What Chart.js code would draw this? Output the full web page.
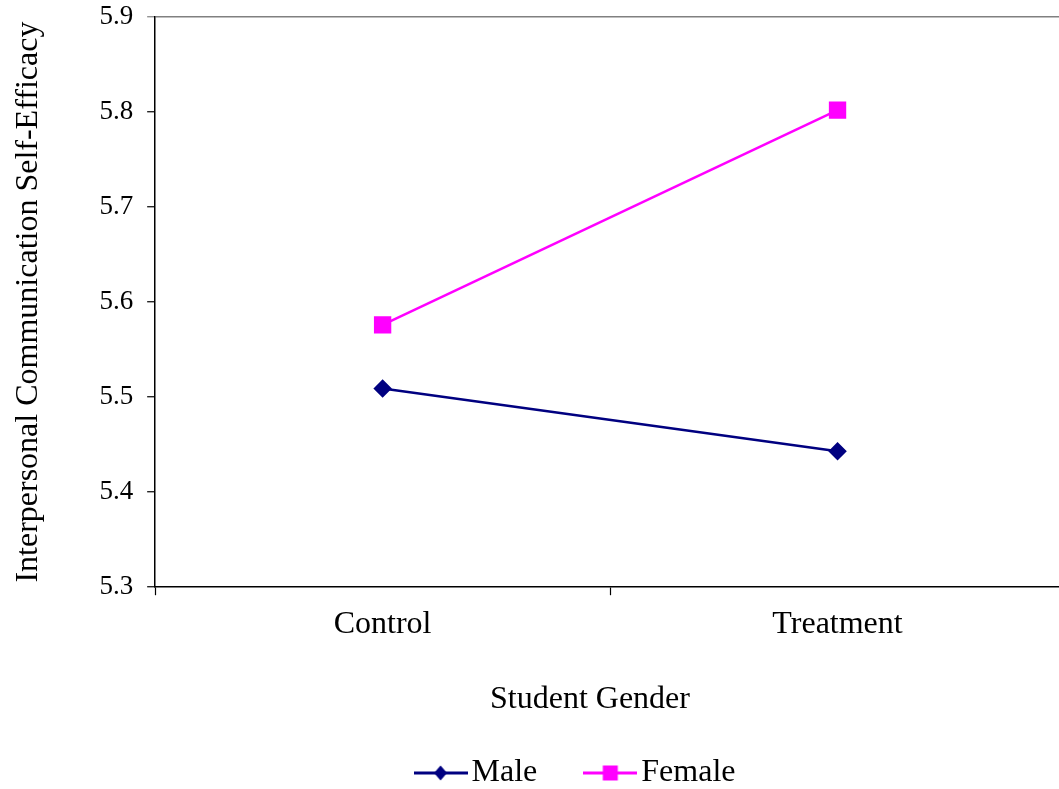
<!DOCTYPE html>
<html>
<head>
<meta charset="utf-8">
<script src="https://cdn.jsdelivr.net/npm/chart.js@4.4.0/dist/chart.umd.min.js"></script>
<style>
  html, body { margin: 0; padding: 0; background: #fff; overflow: hidden; }
  #wrap { width: 1066px; height: 789px; }
</style>
</head>
<body>
<div id="wrap"><canvas id="chart"></canvas></div>
<script>
let groups = ['Control', 'Treatment']
let maleScores = [5.509, 5.443]
let femaleScores = [5.576, 5.802]
let yTicks = [5.3, 5.4, 5.5, 5.6, 5.7, 5.8, 5.9]

const serif = "'Liberation Serif', 'Times New Roman', serif"

// little canvas with a line through a marker, used as the legend symbol
function legendIcon(color, shape) {
  var c = document.createElement('canvas')
  c.width = 54
  c.height = 20
  var g = c.getContext('2d')
  g.strokeStyle = color
  g.lineWidth = 3
  g.beginPath()
  g.moveTo(0, 10)
  g.lineTo(54, 10)
  g.stroke()
  g.fillStyle = color
  if (shape === 'diamond') {
    g.beginPath()
    g.moveTo(27, 2.5)
    g.lineTo(33.5, 10)
    g.lineTo(27, 17.5)
    g.lineTo(20.5, 10)
    g.closePath()
    g.fill()
  } else {
    g.fillRect(19.5, 2.5, 15, 15)
  }
  return c
}

// move legend and bottom title to where the original has them
const nudge = {
  id: 'nudge',
  afterLayout(chart) {
    const move = (box, cx, dy) => {
      if (!box) return
      const dx = cx - (box.left + box.right) / 2
      box.left += dx
      box.right += dx
      box.top += dy
      box.bottom += dy
    }
    move(chart.legend, 580.5, 10)
    move(chart.titleBlock, 590, 0)
  }
}

const ctx = document.getElementById('chart').getContext('2d')
const chart = new Chart(ctx, {
  type: 'line',
  data: {
    labels: groups,
    datasets: [
      {
        label: 'Male',
        data: maleScores,
        borderColor: '#000080',
        backgroundColor: '#000080',
        borderWidth: 2.5,
        pointStyle: 'rectRot',
        pointRadius: 7.5,
        pointHoverRadius: 7.5,
        icon: legendIcon('#000080', 'diamond'),
        gap: '\u2003\u2002'
      },
      {
        label: 'Female',
        data: femaleScores,
        borderColor: '#FF00FF',
        backgroundColor: '#FF00FF',
        borderWidth: 2.5,
        pointStyle: 'rect',
        pointRadius: 10.5,
        pointHoverRadius: 10.5,
        icon: legendIcon('#FF00FF', 'square'),
        gap: ''
      }
    ]
  },
  plugins: [nudge],
  options: {
    responsive: true,
    maintainAspectRatio: false,
    animation: false,
    layout: { autoPadding: false, padding: { left: 5, top: 17, right: 1, bottom: 0 } },
    plugins: {
      tooltip: { enabled: false },
      title: {
        display: true,
        position: 'bottom',
        weight: 500,
        text: 'Student Gender',
        color: '#000',
        padding: { top: 27, bottom: 18 },
        font: { family: serif, size: 32, weight: 'normal' }
      },
      legend: {
        position: 'bottom',
        labels: {
          usePointStyle: true,
          pointStyleWidth: 30,
          padding: 10,
          color: '#000',
          font: { family: serif, size: 32 },
          generateLabels: (chart) => chart.data.datasets.map((ds, i) => ({
            text: ds.label + ds.gap,
            pointStyle: ds.icon,
            fontColor: '#000',
            lineWidth: 0,
            strokeStyle: 'transparent',
            fillStyle: 'transparent',
            datasetIndex: i
          }))
        }
      }
    },
    scales: {
      x: {
        offset: true,
        grid: {
          offset: true,
          drawOnChartArea: false,
          drawTicks: true,
          tickLength: 8,
          tickColor: '#000',
          tickWidth: 1.2
        },
        border: { color: '#000', width: 1.5 },
        ticks: {
          color: '#000',
          padding: 10,
          font: { family: serif, size: 32 }
        }
      },
      y: {
        min: yTicks[0],
        max: yTicks[yTicks.length - 1],
        afterBuildTicks: (axis) => {
          axis.ticks = yTicks.map(v => ({ value: v }))
        },
        grid: {
          color: (c) => c.index === yTicks.length - 1 ? '#808080' : 'transparent',
          lineWidth: 1.5,
          drawTicks: true,
          tickLength: 8,
          tickColor: (c) => c.index === yTicks.length - 1 ? '#808080' : '#000',
          tickWidth: 1.2
        },
        border: { color: '#000', width: 1.5 },
        ticks: {
          color: '#000',
          padding: 14,
          // small lineHeight keeps the axis from pushing the plot top down
          font: { family: serif, size: 27, lineHeight: 0.2 },
          callback: (v) => Number(v).toFixed(1)
        },
        title: {
          display: true,
          text: 'Interpersonal Communication Self-Efficacy',
          color: '#000',
          padding: { top: 4, bottom: 38 },
          font: { family: serif, size: 32 }
        }
      }
    }
  }
})
</script>
</body>
</html>
